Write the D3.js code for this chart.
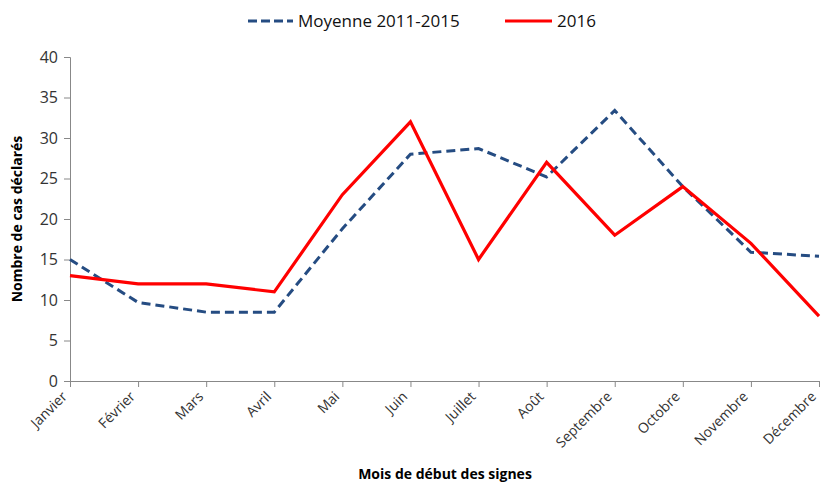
<!DOCTYPE html>
<html>
<head>
<meta charset="utf-8">
<script src="https://cdn.jsdelivr.net/npm/d3@7"></script>
<style>
  body { margin: 0; background: #fff; }
  text { font-family: "Open Sans", "Noto Sans", sans-serif; }
</style>
</head>
<body>
<div id="chart"></div>
<script>
// month categories and the two series
var months = ["Janvier", "Février", "Mars", "Avril", "Mai", "Juin", "Juillet", "Août", "Septembre", "Octobre", "Novembre", "Décembre"];
var moyenne = [15, 9.7, 8.5, 8.5, 18.8, 28, 28.7, 25.2, 33.4, 24, 15.9, 15.4];
var annee2016 = [13, 12, 12, 11, 23, 32, 15, 27, 18, 24, 17, 8];
var yTicks = [0, 5, 10, 15, 20, 25, 30, 35, 40];

var width = 821, height = 483;
var margin = { left: 70, right: 2, top: 57, bottom: 102 };

var svg = d3.select("#chart").append("svg")
    .attr("width", width).attr("height", height);

var x = d3.scalePoint().domain(months).range([margin.left, width - margin.right]);
var y = d3.scaleLinear().domain([0, 40]).range([height - margin.bottom, margin.top]);

// y axis
var yAxis = svg.append("g").attr("transform", "translate(" + margin.left + ",0)")
    .call(d3.axisLeft(y).tickValues(yTicks).tickSize(6).tickPadding(6));
yAxis.selectAll("text").style("font-size", "16px").style("fill", "#333");

// x axis
var xAxis = svg.append("g").attr("transform", "translate(0," + y(0) + ")")
    .call(d3.axisBottom(x).tickSize(6));
xAxis.selectAll("text")
    .style("font-size", "14px").style("fill", "#333")
    .style("text-anchor", "end")
    .attr("x", 0).attr("y", 0).attr("dy", "0.35em")
    .attr("transform", "translate(-6,13) rotate(-45)");

svg.selectAll(".domain, .tick line").style("stroke", "#888").style("stroke-width", 1);

// lines
var line = d3.line().x(function (d, i) { return x(months[i]); }).y(function (d) { return y(d); });

svg.append("path").datum(moyenne)
    .attr("d", line)
    .style("fill", "none").style("stroke", "#254C82")
    .style("stroke-width", 3).style("stroke-dasharray", "9,5");

svg.append("path").datum(annee2016)
    .attr("d", line)
    .style("fill", "none").style("stroke", "#FF0000")
    .style("stroke-width", 3.2);

// axis titles
svg.append("text").text("Nombre de cas déclarés")
    .attr("transform", "translate(22," + ((y(0) + y(40)) / 2) + ") rotate(-90)")
    .style("text-anchor", "middle").style("font-size", "14px").style("font-weight", "bold");

svg.append("text").text("Mois de début des signes")
    .attr("x", 445).attr("y", 479)
    .style("text-anchor", "middle").style("font-size", "14px").style("font-weight", "bold");

// legend
var legend = svg.append("g");
legend.append("line").attr("x1", 248).attr("x2", 293).attr("y1", 21).attr("y2", 21)
    .style("stroke", "#254C82").style("stroke-width", 3).style("stroke-dasharray", "9,4");
legend.append("text").text("Moyenne 2011-2015").attr("x", 298).attr("y", 27)
    .style("font-size", "17px").style("fill", "#111");
legend.append("line").attr("x1", 505).attr("x2", 552).attr("y1", 21).attr("y2", 21)
    .style("stroke", "#FF0000").style("stroke-width", 3);
legend.append("text").text("2016").attr("x", 557).attr("y", 27)
    .style("font-size", "17px").style("fill", "#111");
</script>
</body>
</html>
